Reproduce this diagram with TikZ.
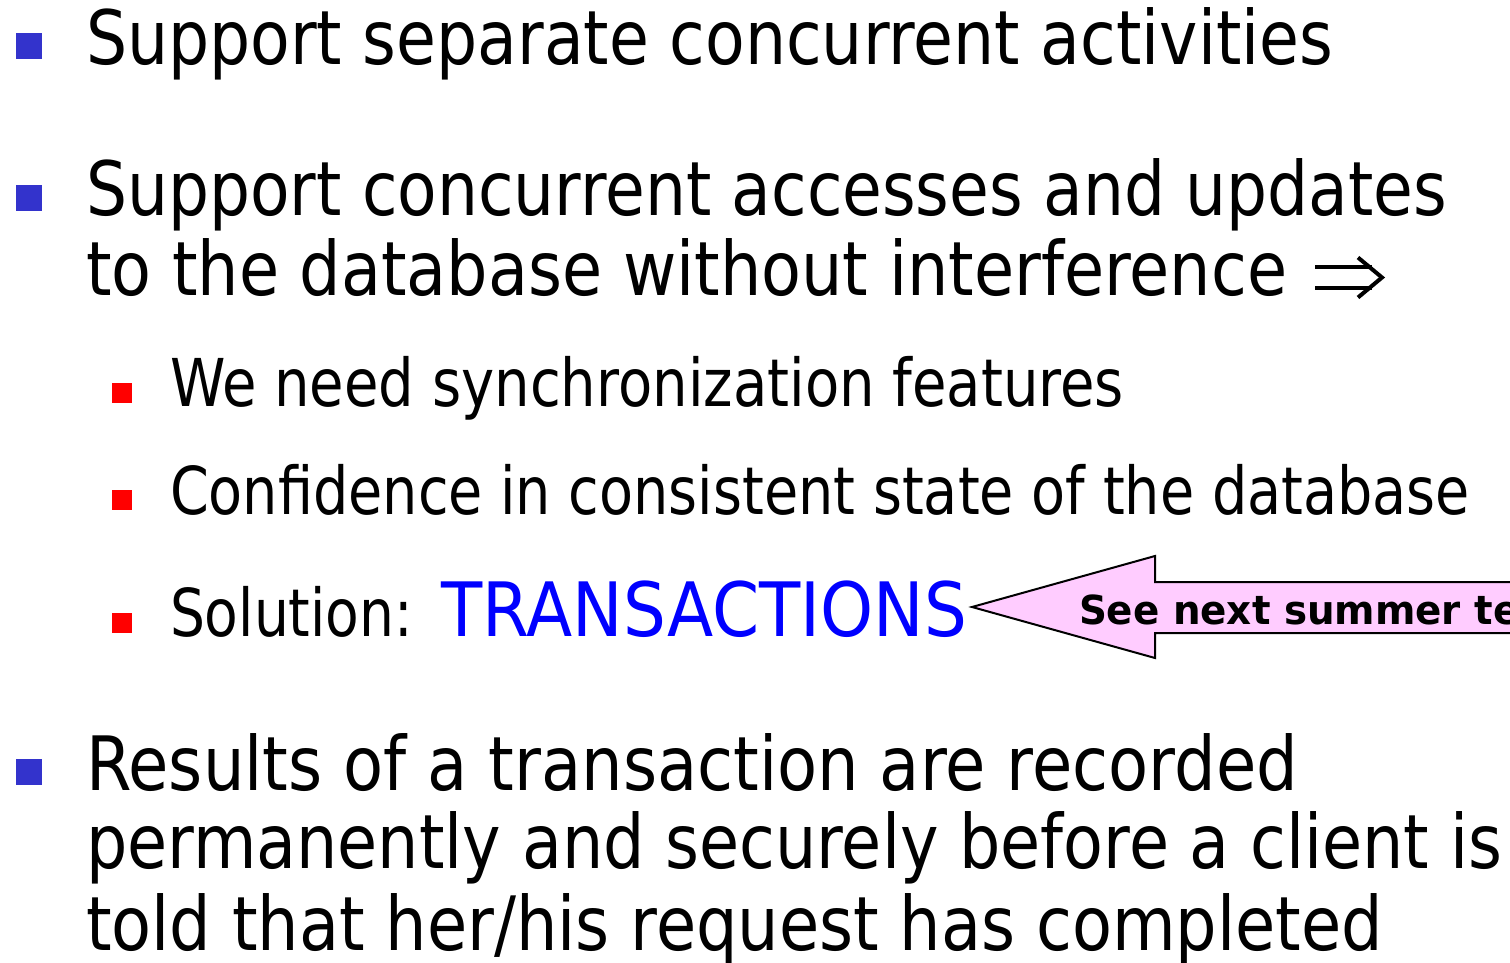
\documentclass[tikz,border=0pt]{standalone}
\usepackage{fontspec}
\setmainfont{DejaVu Sans}
\usepackage{graphicx}
\definecolor{bulletblue}{HTML}{3333CC}
\definecolor{calloutpink}{HTML}{FFCCFF}
\definecolor{keyblue}{HTML}{0000FF}
% set a line of text to a given width, keeping its natural height
\newcommand\fitline[2]{\resizebox{#1pt}{\height}{#2}}
\begin{document}
\begin{tikzpicture}[x=1pt,y=-1pt,
  textline/.style={anchor=base west, inner sep=0pt, outer sep=0pt},
  bigtext/.style={textline, font=\fontsize{75}{75}\selectfont},
  smalltext/.style={textline, font=\fontsize{66}{66}\selectfont},
  mainbullet/.style={fill=bulletblue},
  subbullet/.style={fill=red},
  implies/.style={line width=4pt, line cap=butt, line join=miter},
  callout/.style={fill=calloutpink, draw=black, line width=2pt, line join=miter}]
\useasboundingbox (0,0) rectangle (1510,963);
\clip (0,0) rectangle (1510,963);

% first-level bullets
\fill[mainbullet] (16,33) rectangle (42,59);
\fill[mainbullet] (16,185) rectangle (42,211);
\fill[mainbullet] (16,759) rectangle (42,785);

% second-level bullets
\fill[subbullet] (112,383) rectangle (132,403);
\fill[subbullet] (112,490) rectangle (132,510);
\fill[subbullet] (112,613) rectangle (132,633);

% first-level text
\node[bigtext] (l1) at (86,65) {\fitline{1247}{Support separate concurrent activities}};
\node[bigtext] (l2) at (86,215) {\fitline{1361}{Support concurrent accesses and updates}};
\node[bigtext] (l3) at (86,295) {\fitline{1201}{to the database without interference}};

% implication arrow after the second bullet
\coordinate (imp) at (1315,277.5);
\draw[implies] (imp) ++(0,-10.5) -- ++(57,0);
\draw[implies] (imp) ++(0,10.5) -- ++(57,0);
\draw[implies] (imp) ++(43,-20) -- ++(24,20) -- ++(-24,20);

% second-level text
\node[smalltext] (s1) at (170,406) {\fitline{954}{We need synchronization features}};
\node[smalltext] (s2) at (170,514) {\fitline{1300}{Confidence in consistent state of the database}};
\node[smalltext] (s3) at (170,636) {\fitline{243}{Solution:}};
\node[bigtext, text=keyblue] (tx) at (441,636) {\fitline{526}{TRANSACTIONS}};

% last bullet
\node[bigtext] (r1) at (86,790) {\fitline{1212}{Results of a transaction are recorded}};
\node[bigtext] (r2) at (86,868) {\fitline{1416}{permanently and securely before a client is}};
\node[bigtext] (r3) at (86,950) {\fitline{1297}{told that her/his request has completed}};

% callout arrow pointing back at the key word
\draw[callout] (972,607) -- (1155,556) -- (1155,582) -- (1540,582)
  -- (1540,633) -- (1155,633) -- (1155,658) -- cycle;
\node[textline, font=\fontsize{40}{40}\selectfont\bfseries] (note) at (1079,624)
  {\scalebox{0.97}[1]{See next summer term}};
\end{tikzpicture}
\end{document}
